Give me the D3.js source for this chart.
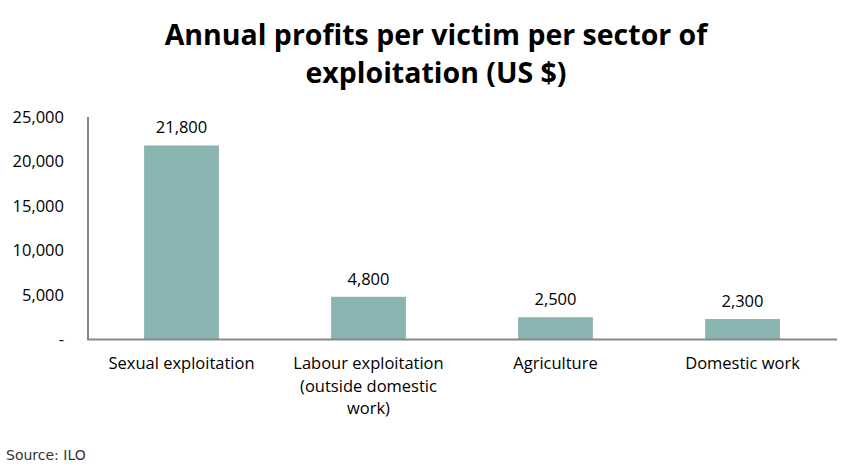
<!DOCTYPE html>
<html><head><meta charset="utf-8">
<script src="https://cdn.jsdelivr.net/npm/d3@7"></script>
<style>body{margin:0;background:#fff}svg{display:block}</style>
</head><body>
<script>
const categories = ["Sexual exploitation", "Labour exploitation (outside domestic work)", "Agriculture", "Domestic work"];
const categoryLines = [["Sexual exploitation"], ["Labour exploitation", "(outside domestic", "work)"], ["Agriculture"], ["Domestic work"]];
const values = [21800, 4800, 2500, 2300];
const yTicks = [0, 5000, 10000, 15000, 20000, 25000];
const yTickLabels = ["-", "5,000", "10,000", "15,000", "20,000", "25,000"];
const valueLabels = ["21,800", "4,800", "2,500", "2,300"];

const W = 856, H = 476;
const svg = d3.select("body").append("svg").attr("width", W).attr("height", H);
const font = "'Open Sans', sans-serif";
const fs = "16.5px";

const x = d3.scaleBand().domain(categories).range([88, 836]).paddingInner(0.6).paddingOuter(0.3);
const y = d3.scaleLinear().domain([0, 25000]).range([339.5, 117]);

svg.append("text").attr("x", 436).attr("y", 45).attr("text-anchor", "middle")
  .style("font-family", font).style("font-weight", "bold").style("font-size", "28.5px").attr("fill", "#000")
  .text("Annual profits per victim per sector of");
svg.append("text").attr("x", 436).attr("y", 83).attr("text-anchor", "middle")
  .style("font-family", font).style("font-weight", "bold").style("font-size", "28.5px").attr("fill", "#000")
  .text("exploitation (US $)");

// bars
svg.selectAll("rect.bar").data(values).enter().append("rect")
  .attr("x", (d, i) => x(categories[i])).attr("width", x.bandwidth())
  .attr("y", d => y(d)).attr("height", d => y(0) - y(d))
  .attr("fill", "#8ab4b1");

// value labels
svg.selectAll("text.val").data(values).enter().append("text")
  .attr("x", (d, i) => x(categories[i]) + x.bandwidth() / 2).attr("y", d => y(d) - 12)
  .attr("text-anchor", "middle").style("font-family", font).style("font-size", fs).attr("fill", "#000")
  .text((d, i) => valueLabels[i]);

// y axis
const yAxis = d3.axisLeft(y).tickValues(yTicks).tickSize(0).tickPadding(24)
  .tickFormat((d, i) => yTickLabels[i]);
const ya = svg.append("g").attr("transform", "translate(88,0)").call(yAxis);
ya.select(".domain").attr("stroke", "#888").attr("stroke-width", 2).attr("d", `M0,${y(25000)}V${y(0)}`);
ya.selectAll("text").style("font-family", font).style("font-size", fs).attr("fill", "#000");

// x baseline
svg.append("line").attr("x1", 87).attr("x2", 837).attr("y1", y(0)).attr("y2", y(0))
  .attr("stroke", "#888").attr("stroke-width", 2);

// category labels
categories.forEach((c, i) => {
  const t = svg.append("text").attr("text-anchor", "middle")
    .style("font-family", font).style("font-size", fs).attr("fill", "#000");
  categoryLines[i].forEach((ln, j) => {
    t.append("tspan").attr("x", x(c) + x.bandwidth() / 2).attr("y", 369 + j * 22.5).text(ln);
  });
});

svg.append("text").attr("x", 6).attr("y", 460)
  .style("font-family", "'DejaVu Sans', sans-serif").style("font-size", "14px").attr("fill", "#333")
  .text("Source: ILO");
</script>
</body></html>
